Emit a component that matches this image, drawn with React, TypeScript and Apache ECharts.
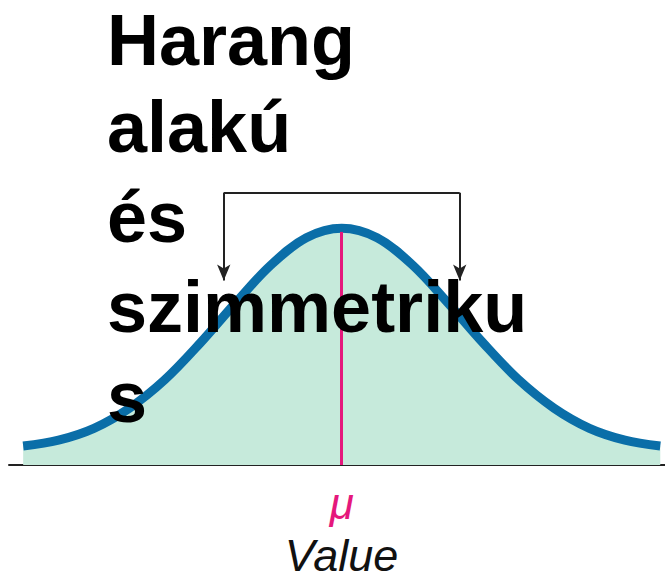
import React, { useEffect, useRef } from "react";
import * as echarts from "echarts";

// Horizontal positions (in standard deviations from the mean)
const zValues = [-2.7, -2.4, -2.1, -1.8, -1.5, -1.2, -0.9, -0.6, -0.3, 0, 0.3, 0.6, 0.9, 1.2, 1.5, 1.8, 2.1, 2.4, 2.7];
// Curve heights (peak = 1)
const curveHeights = [0.08, 0.105, 0.155, 0.24, 0.36, 0.515, 0.685, 0.845, 0.96, 1.0, 0.96, 0.845, 0.685, 0.515, 0.36, 0.24, 0.155, 0.105, 0.08];
const meanValue = 0;
const meanTop = 0.985;
const meanLabel = "μ";
const axisName = "Value";
const titleLines = ["Harang", "alakú", "és", "szimmetriku", "s"];
const bracketX = [-1, 1];
const bracketTop = 1.15;
const arrowTip = 0.78;

export default function App() {
  const ref = useRef<HTMLDivElement>(null);
  useEffect(() => {
    if (!ref.current) return;
    const chart = echarts.init(ref.current, undefined, { renderer: "svg" });
    const bracketStyle = { color: "#222", width: 2, type: "solid" as const };
    chart.setOption({
      animation: false,
      backgroundColor: "#ffffff",
      title: titleLines.map((line, i) => ({
        text: line,
        left: 107,
        top: i === 0 ? 10 : 7 + i * 90,
        padding: 0,
        z: 10,
        textStyle: {
          fontFamily: "Liberation Sans",
          fontWeight: "bold",
          fontSize: 72,
          lineHeight: 60,
          color: "#000",
        },
      })),
      grid: { left: 9, right: 0, top: 181, bottom: 114 },
      xAxis: {
        type: "value",
        min: -2.82,
        max: 2.74,
        splitLine: { show: false },
        axisTick: { show: false },
        axisLine: { show: true, lineStyle: { color: "#222", width: 2 } },
        axisLabel: {
          customValues: [meanValue],
          formatter: () => meanLabel,
          color: "#e5187c",
          fontSize: 44,
          fontStyle: "italic",
          fontFamily: "Liberation Sans",
          margin: 16,
        },
        name: axisName,
        nameLocation: "middle",
        nameGap: 72,
        nameTextStyle: {
          fontFamily: "Liberation Sans",
          fontStyle: "italic",
          fontSize: 45,
          lineHeight: 36,
          color: "#111",
          padding: [0, 0, 0, 9],
        },
      },
      yAxis: { type: "value", min: 0, max: 1.2, show: false, splitLine: { show: false } },
      series: [
        {
          type: "line",
          data: zValues.map((x, i) => [x, curveHeights[i]]),
          smooth: 0.35,
          showSymbol: false,
          symbol: "none",
          lineStyle: { color: "#0a6ea8", width: 9, cap: "butt" },
          areaStyle: { color: "#c6eadb", opacity: 1 },
          markLine: {
            silent: true,
            label: { show: false },
            data: [
              [
                { coord: [meanValue, 0], symbol: "none", lineStyle: { color: "#e5187c", width: 3, type: "solid" } },
                { coord: [meanValue, meanTop], symbol: "none" },
              ],
              [
                { coord: [bracketX[0], bracketTop], symbol: "none", lineStyle: bracketStyle },
                { coord: [bracketX[1], bracketTop], symbol: "none" },
              ],
              [
                { coord: [bracketX[0], bracketTop], symbol: "none", lineStyle: bracketStyle },
                { coord: [bracketX[0], arrowTip], symbol: "arrow", symbolSize: [10, 16] },
              ],
              [
                { coord: [bracketX[1], bracketTop], symbol: "none", lineStyle: bracketStyle },
                { coord: [bracketX[1], arrowTip], symbol: "arrow", symbolSize: [10, 16] },
              ],
            ],
          },
        },
      ],
    });
    return () => chart.dispose();
  }, []);
  return <div ref={ref} style={{ position: "absolute", left: 0, top: 0, width: 665, height: 579 }} />;
}
